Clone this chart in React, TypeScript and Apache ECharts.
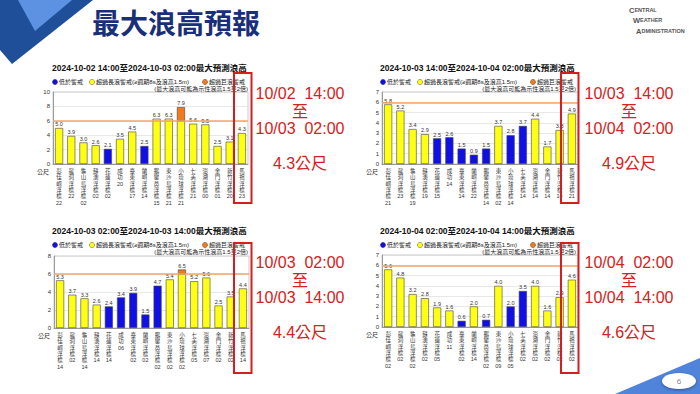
import React, { useEffect, useRef } from "react";
import * as echarts from "echarts";

const stations = ["彭佳嶼浮標", "龍洞浮標", "龜山島浮標", "蘇澳浮標", "花蓮浮標", "成功", "臺東浮標", "蘭嶼浮標", "鵝鑾鼻浮標", "東沙島浮標", "小琉球浮標", "七美浮標", "澎湖浮標", "金門浮標", "新竹浮標", "馬祖浮標"];

const titles = [
  "2024-10-02 14:00至2024-10-03 02:00最大預測浪高",
  "2024-10-03 14:00至2024-10-04 02:00最大預測浪高",
  "2024-10-03 02:00至2024-10-03 14:00最大預測浪高",
  "2024-10-04 02:00至2024-10-04 14:00最大預測浪高",
];

const values1 = [5.0, 3.9, 3.0, 2.6, 2.1, 3.5, 4.5, 2.5, 6.3, 6.3, 7.9, 5.6, 5.5, 2.5, 3.1, 4.3];
const levels1 = "yyyybyybyyoyyyyy";
const hours1 = ["22", "22", "02", "02", "02", "20", "17", "14", "15", "21", "21", "21", "00", "01", "20", "23"];

const values2 = [5.8, 5.2, 3.4, 2.9, 2.5, 2.6, 1.5, 0.9, 1.5, 3.7, 2.8, 3.7, 4.4, 1.7, 3.3, 4.9];
const levels2 = "yyyybbbbbybbyyyy";
const hours2 = ["21", "23", "19", "19", "15", "14", "14", "22", "14", "02", "14", "14", "14", "14", "14", "21"];

const values3 = [5.3, 3.7, 3.3, 2.6, 2.4, 3.4, 3.9, 1.5, 4.7, 5.4, 6.5, 5.2, 5.6, 2.5, 3.5, 4.4];
const levels3 = "yyyybbbbbyoyyyyy";
const hours3 = ["14", "02", "14", "14", "14", "06", "02", "02", "02", "02", "02", "05", "07", "02", "02", "14"];

const values4 = [5.6, 4.8, 3.2, 2.8, 1.9, 1.6, 0.6, 2.0, 0.7, 4.0, 2.0, 3.5, 4.0, 1.6, 2.9, 4.6];
const levels4 = "yyyyyybybybbyyyy";
const hours4 = ["02", "02", "02", "02", "05", "11", "02", "14", "02", "09", "05", "02", "02", "02", "02", "02"];

const yMax = [10, 7, 8, 7];
const yStep = [2, 1, 2, 1];
const warnLine = 6;

const periods = [
  ["10/02  14:00", "至", "10/03  02:00", "4.3公尺"],
  ["10/03  14:00", "至", "10/04  02:00", "4.9公尺"],
  ["10/03  02:00", "至", "10/03  14:00", "4.4公尺"],
  ["10/04  02:00", "至", "10/04  14:00", "4.6公尺"],
];

const legendNames = ["低於警戒", "超過長浪警戒(≥週期8s及浪高1.5m)", "超過巨浪警戒", "(最大浪高可能為示性浪高1.5至2倍)"];

const allValues = [values1, values2, values3, values4];
const allLevels = [levels1, levels2, levels3, levels4];
const allHours = [hours1, hours2, hours3, hours4];

const BLUE = "#1010e6";
const YELLOW = "#ffff14";
const ORANGE = "#f07a1c";
const FONT = "'Liberation Sans', 'Noto Sans CJK TC', sans-serif";

const grids = [
  { left: 53, top: 92, width: 195, height: 72 },
  { left: 382, top: 92, width: 196, height: 72 },
  { left: 54, top: 256, width: 195, height: 72 },
  { left: 382, top: 255, width: 196, height: 72 },
];
const offs = [
  [0, 0],
  [328, 0],
  [0, 163],
  [328, 163],
];

export default function App() {
  const ref = useRef<HTMLDivElement>(null);
  useEffect(() => {
    if (!ref.current) return;
    const chart = echarts.init(ref.current, null, { renderer: "svg" });

    const xAxis: any[] = [];
    const yAxis: any[] = [];
    const series: any[] = [];
    const graphic: any[] = [];

    // slide decorations
    graphic.push(
      { type: "polygon", shape: { points: [[0, 0], [93, 0], [12, 64], [0, 50]] }, style: { fill: "#1f4f98" } },
      { type: "polygon", shape: { points: [[18, 0], [72, 0], [35, 31]] }, style: { fill: "#5d92e2" } },
      { type: "text", x: 92, y: 22, style: { text: "最大浪高預報", font: "bold 28px 'Noto Sans CJK TC'", fill: "#1a2f7a", verticalAlign: "middle" } },
      {
        type: "text", x: 629, y: 10,
        style: { text: "{a|C}{b|ENTRAL}", verticalAlign: "middle", rich: { a: { fontSize: 7.5, fontWeight: "bold", fill: "#555", fontFamily: FONT }, b: { fontSize: 5.5, fontWeight: "bold", fill: "#555", fontFamily: FONT } } },
      },
      {
        type: "text", x: 633, y: 20,
        style: { text: "{a|W}{b|EATHER}", verticalAlign: "middle", rich: { a: { fontSize: 7.5, fontWeight: "bold", fill: "#555", fontFamily: FONT }, b: { fontSize: 5.5, fontWeight: "bold", fill: "#555", fontFamily: FONT } } },
      },
      {
        type: "text", x: 636, y: 31,
        style: { text: "{a|A}{b|DMINISTRATION}", verticalAlign: "middle", rich: { a: { fontSize: 7.5, fontWeight: "bold", fill: "#555", fontFamily: FONT }, b: { fontSize: 5.5, fontWeight: "bold", fill: "#555", fontFamily: FONT } } },
      },
      { type: "polygon", shape: { points: [[615, 394], [700, 358], [700, 394]] }, style: { fill: "#4f84da" } },
      { type: "ellipse", shape: { cx: 679, cy: 381, rx: 17, ry: 8 }, style: { fill: "#fff", shadowBlur: 3, shadowColor: "rgba(0,0,0,0.4)", shadowOffsetY: 1 } },
      { type: "text", x: 679, y: 381, style: { text: "6", fontSize: 8, fill: "#888", align: "center", verticalAlign: "middle", fontFamily: FONT } }
    );

    for (let k = 0; k < 4; k++) {
      const vals = allValues[k];
      const lv = allLevels[k];
      const hrs = allHours[k];
      const [dx, dy] = offs[k];
      const g = grids[k];

      xAxis.push({
        type: "category",
        gridIndex: k,
        data: stations,
        axisTick: { show: false },
        axisLine: { lineStyle: { color: "#888", width: 0.8 } },
        axisLabel: {
          interval: 0,
          fontSize: 5.5,
          lineHeight: 6.3,
          color: "#333",
          margin: 4,
          fontFamily: FONT,
          formatter: (name: string, idx: number) => name.split("").join("\n") + "\n" + hrs[idx],
        },
      });
      yAxis.push({
        type: "value",
        gridIndex: k,
        min: 0,
        max: yMax[k],
        interval: yStep[k],
        axisLine: { show: true, lineStyle: { color: "#888", width: 0.8 } },
        axisTick: { show: false },
        axisLabel: { fontSize: 6, color: "#333", margin: 3, fontFamily: FONT },
        splitLine: { lineStyle: { color: "#d8d8d8", width: 0.6 } },
      });

      const labelFmt = (p: any) => vals[p.dataIndex].toFixed(1);
      series.push({
        type: "bar",
        xAxisIndex: k,
        yAxisIndex: k,
        stack: "s" + k,
        barWidth: "66%",
        data: vals.map((v, j) => ({
          value: lv[j] === "o" ? warnLine : v,
          itemStyle: { color: lv[j] === "b" ? BLUE : YELLOW },
          label: { show: lv[j] !== "o" },
        })),
        itemStyle: { borderColor: "#444", borderWidth: 0.6 },
        label: { position: "top", distance: 1, fontSize: 5.5, color: "#333", fontFamily: FONT, formatter: labelFmt },
        markLine: {
          silent: true,
          symbol: ["none", "none"],
          label: { show: false },
          lineStyle: { color: "#f4a46a", width: 1.5, type: "solid" },
          data: [{ yAxis: warnLine }],
        },
      });
      series.push({
        type: "bar",
        xAxisIndex: k,
        yAxisIndex: k,
        stack: "s" + k,
        barWidth: "66%",
        data: vals.map((v, j) => (lv[j] === "o" ? { value: v - warnLine, itemStyle: { color: ORANGE } } : "-")),
        itemStyle: { borderColor: "#444", borderWidth: 0.6 },
        label: { show: true, position: "top", distance: 1, fontSize: 5.5, color: "#333", fontFamily: FONT, formatter: labelFmt },
      });

      // chart title and legend
      graphic.push(
        { type: "text", x: 52 + dx, y: 68 + dy, style: { text: titles[k], font: `bold 8.5px ${FONT}`, fill: "#111", verticalAlign: "middle" } },
        { type: "circle", shape: { cx: 55 + dx, cy: 82 + dy, r: 2.6 }, style: { fill: BLUE, stroke: "#333", lineWidth: 0.4 } },
        { type: "text", x: 59 + dx, y: 82 + dy, style: { text: legendNames[0], fontSize: 6, fontFamily: FONT, fill: "#222", verticalAlign: "middle" } },
        { type: "circle", shape: { cx: 92 + dx, cy: 82 + dy, r: 2.6 }, style: { fill: YELLOW, stroke: "#333", lineWidth: 0.4 } },
        { type: "text", x: 96 + dx, y: 82 + dy, style: { text: legendNames[1], fontSize: 6, fontFamily: FONT, fill: "#222", verticalAlign: "middle" } },
        { type: "circle", shape: { cx: 205 + dx, cy: 82 + dy, r: 2.6 }, style: { fill: ORANGE, stroke: "#333", lineWidth: 0.4 } },
        { type: "text", x: 209 + dx, y: 82 + dy, style: { text: legendNames[2], fontSize: 6, fontFamily: FONT, fill: "#222", verticalAlign: "middle" } },
        { type: "text", x: 248 + dx, y: 88.5 + dy, style: { text: legendNames[3], fontSize: 6, fontFamily: FONT, fill: "#222", align: "right", verticalAlign: "middle" } },
        { type: "text", x: g.left - 4, y: g.top + g.height + 5, style: { text: "公尺", fontSize: 6, fontFamily: FONT, fill: "#333", align: "right", verticalAlign: "top" } }
      );

      // highlight box around the last station
      const boxX = k % 2 === 0 ? 234 : 561;
      const boxY = k < 2 ? 73 : 243;
      graphic.push({
        type: "rect",
        shape: { x: boxX, y: boxY, width: 17.5, height: 130 },
        style: { fill: "none", stroke: "#d41f1f", lineWidth: 2 },
        z: 100,
      });

      const cx = k % 2 === 0 ? 300 : 629;
      const ys = k < 2 ? [93, 111, 128, 163] : [262, 280, 297, 332];
      periods[k].forEach((t, i) => {
        graphic.push({
          type: "text",
          x: cx,
          y: ys[i],
          style: { text: t, fontSize: 16, fontFamily: "'Liberation Sans', 'Noto Sans CJK TC'", fill: "#d42222", align: "center", verticalAlign: "middle" },
        });
      });
    }

    chart.setOption({
      animation: false,
      backgroundColor: "#ffffff",
      grid: grids.map((g) => ({ ...g, show: true, borderColor: "#aaa", borderWidth: 0.6, backgroundColor: "transparent" })),
      xAxis,
      yAxis,
      series,
      graphic,
    });
    return () => chart.dispose();
  }, []);
  return <div ref={ref} style={{ position: "fixed", left: 0, top: 0, width: 700, height: 394 }} />;
}
